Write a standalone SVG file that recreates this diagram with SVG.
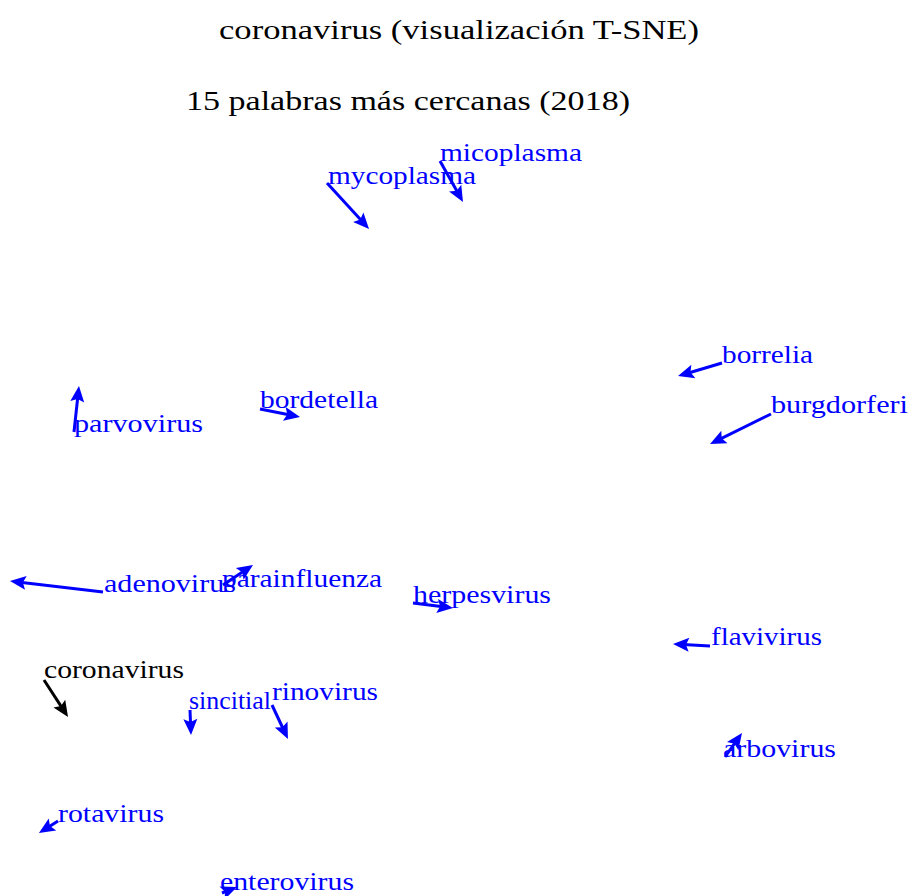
<svg xmlns="http://www.w3.org/2000/svg" width="910" height="896" viewBox="0 0 910 896">
  <style>
    .title { font-family: "Liberation Serif", "DejaVu Serif", serif; font-size: 28px; fill: #000; }
    .lbl { font-family: "Liberation Serif", "DejaVu Serif", serif; font-size: 26px; fill: #0000ff; }
    .lbl.q { fill: #000; }
    .arr { stroke: #0000ff; stroke-width: 3; fill: none; marker-end: url(#head); }
    .arr.q { stroke: #000; marker-end: url(#headK); }
  </style>
  <defs>
    <marker id="head" markerUnits="userSpaceOnUse" markerWidth="24" markerHeight="24" viewBox="-8 -12 24 24" refX="0" refY="0" orient="auto" overflow="visible">
      <path d="M-6,-7 L10,0 L-6,7 L-3,0 z" fill="#0000ff"/>
    </marker>
    <marker id="headK" markerUnits="userSpaceOnUse" markerWidth="24" markerHeight="24" viewBox="-8 -12 24 24" refX="0" refY="0" orient="auto" overflow="visible">
      <path d="M-6,-7 L10,0 L-6,7 L-3,0 z" fill="#000"/>
    </marker>
  </defs>

  <rect width="910" height="896" fill="#fff"/>

  <text class="title" x="219" y="39" textLength="480" lengthAdjust="spacingAndGlyphs">coronavirus (visualización T-SNE)</text>
  <text class="title" x="186" y="110" textLength="444" lengthAdjust="spacingAndGlyphs">15 palabras más cercanas (2018)</text>

  <!-- connectors: offset arrows from each word -->
  <g id="connectors">
    <line class="arr" x1="327" y1="183" x2="362.3" y2="221.6"/>
    <line class="arr" x1="440" y1="161" x2="458.1" y2="193.3"/>
    <line class="arr" x1="74" y1="432" x2="77.9" y2="395.9"/>
    <line class="arr" x1="260" y1="409" x2="290.2" y2="415"/>
    <line class="arr" x1="722" y1="363" x2="687.6" y2="373.2"/>
    <line class="arr" x1="771" y1="414" x2="719" y2="439.6"/>
    <line class="arr" x1="103" y1="592" x2="19.9" y2="582.2"/>
    <line class="arr" x1="223" y1="585" x2="244.7" y2="570.5"/>
    <line class="arr" x1="413" y1="603" x2="443.1" y2="606.8"/>
    <line class="arr" x1="710" y1="646" x2="683" y2="644.5"/>
    <line class="arr q" x1="44" y1="680" x2="62.6" y2="708.6"/>
    <line class="arr" x1="190" y1="710" x2="190.6" y2="725"/>
    <line class="arr" x1="272" y1="705" x2="283.7" y2="730"/>
    <line class="arr" x1="725" y1="757" x2="736.2" y2="741.2"/>
    <line class="arr" x1="58" y1="821" x2="47.4" y2="827.7"/>
    <line class="arr" x1="222" y1="893" x2="227.7" y2="890.7"/>
  </g>

  <g id="micoplasma"><text class="lbl" x="440" y="161" textLength="142" lengthAdjust="spacingAndGlyphs">micoplasma</text></g>
  <g id="mycoplasma"><text class="lbl" x="328" y="184" textLength="148" lengthAdjust="spacingAndGlyphs">mycoplasma</text></g>
  <g id="borrelia"><text class="lbl" x="722" y="363" textLength="91" lengthAdjust="spacingAndGlyphs">borrelia</text></g>
  <g id="burgdorferi"><text class="lbl" x="771" y="413" textLength="137" lengthAdjust="spacingAndGlyphs">burgdorferi</text></g>
  <g id="bordetella"><text class="lbl" x="260" y="408" textLength="118" lengthAdjust="spacingAndGlyphs">bordetella</text></g>
  <g id="parvovirus"><text class="lbl" x="74" y="432" textLength="129" lengthAdjust="spacingAndGlyphs">parvovirus</text></g>
  <g id="adenovirus"><text class="lbl" x="104" y="592" textLength="132" lengthAdjust="spacingAndGlyphs">adenovirus</text></g>
  <g id="parainfluenza"><text class="lbl" x="222" y="587" textLength="160" lengthAdjust="spacingAndGlyphs">parainfluenza</text></g>
  <g id="herpesvirus"><text class="lbl" x="413" y="603" textLength="138" lengthAdjust="spacingAndGlyphs">herpesvirus</text></g>
  <g id="flavivirus"><text class="lbl" x="711" y="645" textLength="111" lengthAdjust="spacingAndGlyphs">flavivirus</text></g>
  <g id="coronavirus"><text class="lbl q" x="44" y="678" textLength="140" lengthAdjust="spacingAndGlyphs">coronavirus</text></g>
  <g id="sincitial"><text class="lbl" x="189" y="709" textLength="82" lengthAdjust="spacingAndGlyphs">sincitial</text></g>
  <g id="rinovirus"><text class="lbl" x="272" y="700" textLength="106" lengthAdjust="spacingAndGlyphs">rinovirus</text></g>
  <g id="arbovirus"><text class="lbl" x="723" y="757" textLength="113" lengthAdjust="spacingAndGlyphs">arbovirus</text></g>
  <g id="rotavirus"><text class="lbl" x="58" y="822" textLength="106" lengthAdjust="spacingAndGlyphs">rotavirus</text></g>
  <g id="enterovirus"><text class="lbl" x="220" y="890" textLength="134" lengthAdjust="spacingAndGlyphs">enterovirus</text></g>
</svg>
